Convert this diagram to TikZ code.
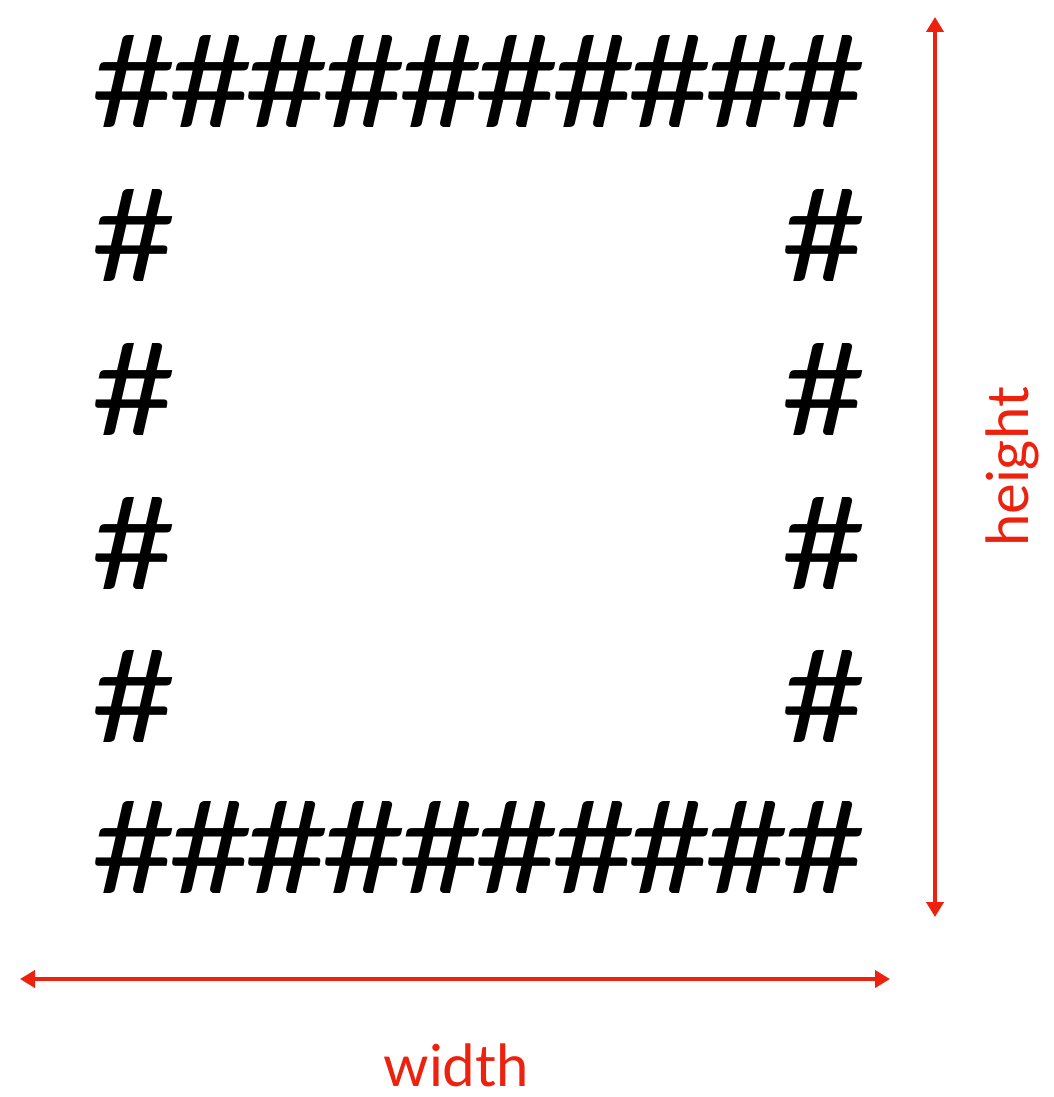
\documentclass[tikz,border=0pt]{standalone}
\usepackage{fontspec}
\setmainfont{Lato}
\usetikzlibrary{arrows.meta}
\definecolor{dimred}{RGB}{236,34,14}
\newcommand\hg{\makebox[76.6pt]{\resizebox{85pt}{92pt}{\#}}}
\begin{document}
\begin{tikzpicture}[x=1pt,y=-1pt,
  hashrow/.style={inner sep=0pt,outer sep=0pt,anchor=center,text=black},
  dimline/.style={draw=dimred,line width=4pt,{Triangle[length=15pt,width=17pt]}-{Triangle[length=15pt,width=17pt]}},
  dimlabel/.style={text=dimred,inner sep=0pt,font=\fontsize{58}{58}\selectfont,anchor=base}]
\useasboundingbox (0,0) rectangle (1053,1097);
% rows of hashes
\node[hashrow] (r1) at (479,81) {\hg\hg\hg\hg\hg\hg\hg\hg\hg\hg};
\node[hashrow] (l2) at (134.3,235) {\hg};
\node[hashrow] (q2) at (823.7,235) {\hg};
\node[hashrow] (l3) at (134.3,389) {\hg};
\node[hashrow] (q3) at (823.7,389) {\hg};
\node[hashrow] (l4) at (134.3,543) {\hg};
\node[hashrow] (q4) at (823.7,543) {\hg};
\node[hashrow] (l5) at (134.3,696) {\hg};
\node[hashrow] (q5) at (823.7,696) {\hg};
\node[hashrow] (r6) at (479,847) {\hg\hg\hg\hg\hg\hg\hg\hg\hg\hg};
% dimension arrows
\coordinate (wl) at (20,979);
\coordinate (wr) at (890,979);
\coordinate (ht) at (935,17);
\coordinate (hb) at (935,917);
\draw[dimline] (wl) -- (wr);
\draw[dimline] (ht) -- (hb);
\node[dimlabel] (wlab) at (456,1086) {width};
\node[dimlabel,rotate=90] (hlab) at (1028,467) {height};
\end{tikzpicture}
\end{document}
